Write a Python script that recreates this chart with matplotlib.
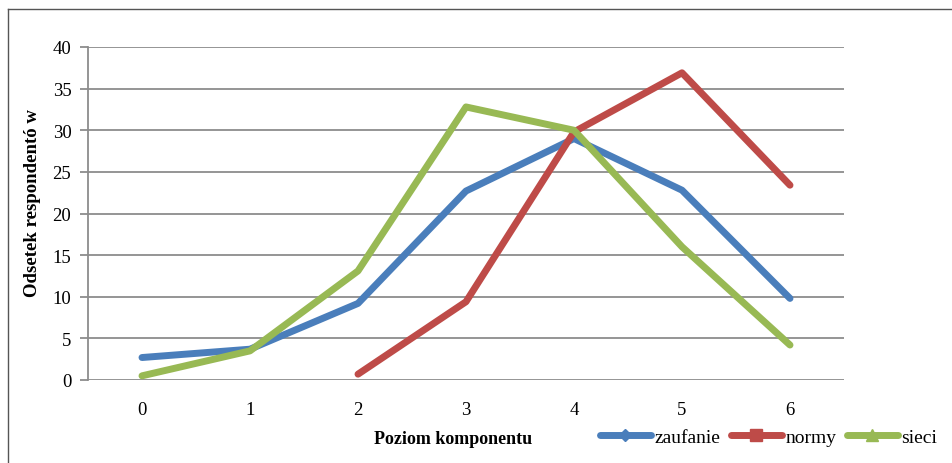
import matplotlib.pyplot as plt
from matplotlib.lines import Line2D

plt.rcParams['font.family'] = ['Liberation Serif', 'DejaVu Serif']

# dane
poziomy = [0, 1, 2, 3, 4, 5, 6]
zaufanie = [2.7, 3.7, 9.2, 22.7, 29.0, 22.8, 9.8]
normy_x = [2, 3, 4, 5, 6]
normy = [0.7, 9.4, 29.8, 36.9, 23.4]
sieci = [0.5, 3.5, 13.1, 32.8, 30.0, 16.0, 4.2]

c_blue = '#4A7EBB'
c_red = '#BE4B48'
c_green = '#98B954'

fig = plt.figure(figsize=(9.52, 4.64), dpi=100)
ax = fig.add_axes([88/952, 83/464, 756/952, 333/464])

lw = 5
ax.plot(poziomy, zaufanie, color=c_blue, lw=lw, solid_capstyle='round', solid_joinstyle='round', zorder=3)
ax.plot(normy_x, normy, color=c_red, lw=lw, solid_capstyle='round', solid_joinstyle='round', zorder=3)
ax.plot(poziomy, sieci, color=c_green, lw=lw, solid_capstyle='round', solid_joinstyle='round', zorder=4)

ax.set_xlim(-0.5, 6.5)
ax.set_ylim(0, 40)
ax.set_yticks(range(0, 41, 5))
ax.set_xticks(poziomy)
ax.grid(axis='y', color='#8C8C8C', lw=1.3)
ax.set_axisbelow(True)
for s in ['top', 'right', 'bottom']:
    ax.spines[s].set_visible(False)
ax.spines['left'].set_color('#8C8C8C')
ax.spines['left'].set_linewidth(1.3)
ax.tick_params(axis='y', length=6, color='#8C8C8C', width=1.3, labelsize=13.5, pad=6)
ax.tick_params(axis='x', length=0, labelsize=13.5, pad=15)

fig.text(33/952, 1-203/464, 'Odsetek respondentó w', rotation=90, fontsize=13.5,
         fontweight='bold', ha='center', va='center')
fig.text(453/952, 1-440/464, 'Poziom komponentu', fontsize=13, fontweight='bold',
         ha='center', va='center')

handles = [
    Line2D([], [], color=c_blue, lw=lw, marker='D', markersize=6, solid_capstyle='round'),
    Line2D([], [], color=c_red, lw=lw, marker='s', markersize=8, solid_capstyle='round'),
    Line2D([], [], color=c_green, lw=lw, marker='^', markersize=8, solid_capstyle='round'),
]
fig.legend(handles, ['zaufanie', 'normy', 'sieci'], loc='center left',
           bbox_to_anchor=(600/952, 1-438/464), ncol=3, frameon=False, fontsize=14,
           handlelength=2.6, handletextpad=0.2, columnspacing=0.55, borderpad=0,
           borderaxespad=0)

# ramka wykresu
fig.add_artist(Line2D([8/952, 8/952], [0, 1-10/464], transform=fig.transFigure, color='#555555', lw=1))
fig.add_artist(Line2D([8/952, 1], [1-10/464, 1-10/464], transform=fig.transFigure, color='#555555', lw=1))

fig.savefig('out.png', dpi=100)
